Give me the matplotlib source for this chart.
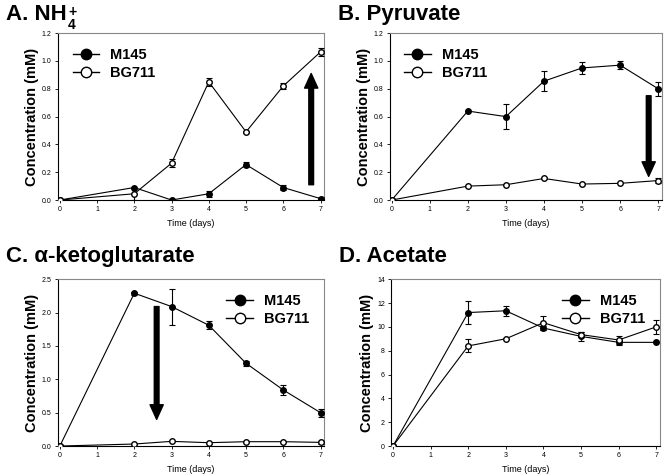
import matplotlib
matplotlib.use("Agg")
import matplotlib.pyplot as plt
from matplotlib.lines import Line2D

plt.rcParams['font.family'] = ['Liberation Sans', 'DejaVu Sans']

days = [0, 2, 3, 4, 5, 6, 7]

# A. NH4+
nh4_m145 = [0, 0.09, 0.0, 0.045, 0.255, 0.09, 0.01]
nh4_m145_err = [0, 0, 0, 0.02, 0.02, 0.02, 0.01]
nh4_bg711 = [0, 0.045, 0.265, 0.85, 0.49, 0.82, 1.065]
nh4_bg711_err = [0, 0.045, 0.03, 0.03, 0.01, 0.02, 0.03]

# B. Pyruvate
pyr_m145 = [0, 0.64, 0.60, 0.855, 0.95, 0.97, 0.80]
pyr_m145_err = [0, 0, 0.09, 0.07, 0.045, 0.03, 0.05]
pyr_bg711 = [0, 0.10, 0.11, 0.155, 0.115, 0.12, 0.14]
pyr_bg711_err = [0, 0, 0, 0, 0, 0, 0.02]

# C. alpha-ketoglutarate
akg_m145 = [0, 2.29, 2.09, 1.81, 1.24, 0.84, 0.50]
akg_m145_err = [0, 0.02, 0.27, 0.06, 0.04, 0.08, 0.06]
akg_bg711 = [0, 0.03, 0.07, 0.05, 0.065, 0.065, 0.055]
akg_bg711_err = [0, 0, 0, 0, 0, 0, 0.02]

# D. Acetate
ace_m145 = [0, 11.2, 11.35, 9.9, 9.2, 8.7, 8.7]
ace_m145_err = [0, 1.0, 0.4, 0.2, 0.35, 0.2, 0]
ace_bg711 = [0, 8.4, 9.0, 10.35, 9.35, 8.9, 10.0]
ace_bg711_err = [0, 0.55, 0, 0.6, 0.2, 0.35, 0.6]

panels = [
    ("A. NH", nh4_m145, nh4_m145_err, nh4_bg711, nh4_bg711_err,
     (0, 1.2), [0, 0.2, 0.4, 0.6, 0.8, 1.0, 1.2], "%.1f", "upper left",
     [0.0873, 0.578, 0.401, 0.352], ((6.75, 0.11), (6.75, 0.91)), 0.958),
    ("B. Pyruvate", pyr_m145, pyr_m145_err, pyr_bg711, pyr_bg711_err,
     (0, 1.2), [0, 0.2, 0.4, 0.6, 0.8, 1.0, 1.2], "%.1f", "upper left",
     [0.587, 0.578, 0.410, 0.352], ((6.75, 0.75), (6.75, 0.17)), 0.958),
    ("C. α-ketoglutarate", akg_m145, akg_m145_err, akg_bg711, akg_bg711_err,
     (0, 2.5), [0, 0.5, 1.0, 1.5, 2.0, 2.5], "%.1f", "upper right",
     [0.0873, 0.059, 0.401, 0.352], ((2.6, 2.09), (2.6, 0.40)), 0.448),
    ("D. Acetate", ace_m145, ace_m145_err, ace_bg711, ace_bg711_err,
     (0, 14), [0, 2, 4, 6, 8, 10, 12, 14], "%d", "upper right",
     [0.589, 0.059, 0.405, 0.352], None, 0.448),
]

fig = plt.figure(figsize=(6.64, 4.74), dpi=100)

for title, m, me, b, be, ylim, yticks, fmt, loc, pos, arrow, ty in panels:
    ax = fig.add_axes(pos)
    ax.errorbar(days, m, yerr=me, color="black", marker="o", markersize=4,
                markerfacecolor="black", lw=0.8, elinewidth=0.8, capsize=2.5,
                capthick=0.8, zorder=3)
    ax.errorbar(days, b, yerr=be, color="black", marker="o", markersize=4,
                markerfacecolor="white", lw=0.8, elinewidth=0.8, capsize=2.5,
                capthick=0.8, zorder=3)
    ax.set_xlim(-0.05, 7.1)
    ax.set_ylim(ylim)
    ax.set_xticks(range(8))
    ax.set_yticks(yticks)
    ax.set_yticklabels([fmt % v for v in yticks])
    ax.tick_params(labelsize=5, length=2.5, width=0.6, direction="out", pad=2)
    for s in ["top", "right"]:
        ax.spines[s].set_color("#888888")
    for s in ax.spines.values():
        s.set_linewidth(0.8)
    ax.set_xlabel("Time (days)", fontsize=6.5, labelpad=4)
    ax.set_ylabel("Concentration (mM)", fontsize=10.5, fontweight="bold", labelpad=2)
    handles = [
        Line2D([], [], color="black", marker="o", markersize=7.5,
               markerfacecolor="black", lw=1),
        Line2D([], [], color="black", marker="o", markersize=7.5,
               markerfacecolor="white", lw=1),
    ]
    ax.legend(handles, ["M145", "BG711"], loc=loc, frameon=False,
              handlelength=1.8, prop={"size": 10.5, "weight": "bold"},
              borderaxespad=0.6, handletextpad=0.8, labelspacing=0.3)
    if arrow is not None:
        tail, tip = arrow
        ax.annotate("", xy=tip, xytext=tail,
                    arrowprops=dict(facecolor="black", edgecolor="black",
                                    width=3.4, headwidth=9.5, headlength=10.5,
                                    shrink=0))
    t = fig.text(pos[0] - 0.078, ty, title, fontsize=16,
                 fontweight="bold", ha="left", va="baseline")
    if title == "A. NH":
        # subscript 4 and superscript + stacked after "NH"
        ax.annotate("4", xy=(1, 0), xycoords=t, xytext=(0.8, -2.6),
                    textcoords="offset points", fontsize=10,
                    fontweight="bold", ha="left", va="baseline",
                    annotation_clip=False)
        ax.annotate("+", xy=(1, 0), xycoords=t, xytext=(1.2, 6.5),
                    textcoords="offset points", fontsize=10,
                    fontweight="bold", ha="left", va="baseline",
                    annotation_clip=False)

fig.savefig("out.png", dpi=100)
